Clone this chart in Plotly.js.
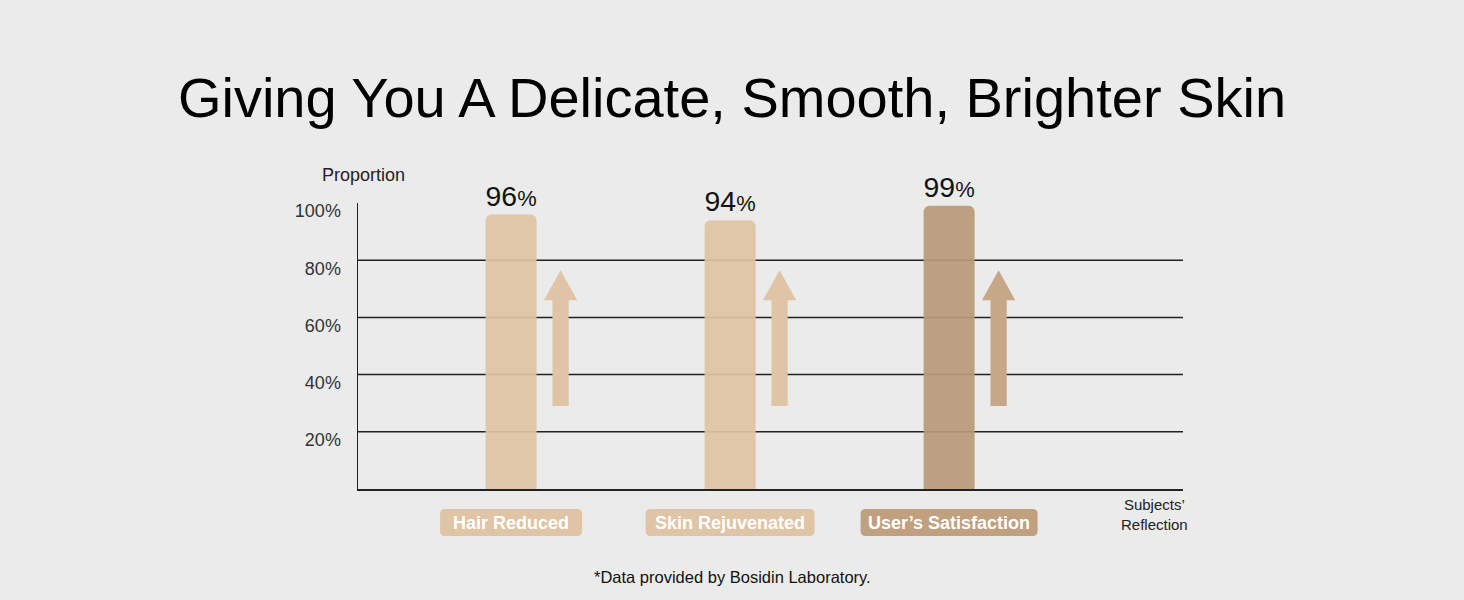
<!DOCTYPE html>
<html>
<head>
<meta charset="utf-8">
<script src="https://cdn.plot.ly/plotly-3.0.1.min.js"></script>
<style>
  html, body { margin: 0; padding: 0; background: #ebebeb; }
  #chart { width: 1464px; height: 600px; }
</style>
</head>
<body>
<div id="chart"></div>
<script>
// Chart data
var categories = ["Hair Reduced", "Skin Rejuvenated", "User\u2019s Satisfaction"];
var proportion = [96, 94, 99];
var tickValues = [20, 40, 60, 80, 100];
var tickLabels = ["20%", "40%", "60%", "80%", "100%"];
var gridValues = [20, 40, 60, 80];
// arrow next to each bar: bottom, head base, tip (in % of axis)
var arrowBottom = [29, 29, 29];
var arrowNeck = [66, 66, 66];
var arrowTip = [76.5, 76.5, 76.5];

// Colours
var lightTan = "#dfc4a5";
var darkTan = "#b89a7a";
var barColors = [lightTan, lightTan, darkTan];
var arrowColors = [lightTan, lightTan, "#c6a787"];
var pillColors = [lightTan, lightTan, "#c0a07f"];
var pillWidths = [142, 169, 177];   // px

var FONT = "Liberation Sans, Arial, sans-serif";
var xpos = categories.map(function (c, i) { return i; });

// plot area size, used to turn pixel sizes into axis units
var plotW = 1464 - 358 - 281, plotH = 600 - 203 - 111;
var xRange = [-0.699, 3.068];
var pxX = (xRange[1] - xRange[0]) / plotW;
var pxY = 1 / plotH;

var bars = {
  type: "bar",
  x: xpos,
  y: proportion,
  width: 0.233,
  marker: { color: barColors, opacity: 0.93, cornerradius: 6 },
  text: proportion.map(function (v) {
    return v + "<span style='font-size:27px'>%</span>";
  }),
  texttemplate: "%{text}",
  textposition: "outside",
  cliponaxis: false,
  textfont: { family: FONT, size: 35, color: "#111" },
  hoverinfo: "skip"
};

var shapes = [];
// grid lines
gridValues.forEach(function (g) {
  shapes.push({
    type: "line", xref: "paper", yref: "y",
    x0: 0, x1: 1, y0: g, y1: g,
    line: { color: "#222", width: 1.5 },
    layer: "below"
  });
});
// up arrows
var offset = 0.226, head = 0.076, shaft = 0.037;
xpos.forEach(function (x, i) {
  var c = x + offset;
  var p = "M " + (c - shaft) + "," + arrowBottom[i] +
    " L " + (c - shaft) + "," + arrowNeck[i] +
    " L " + (c - head) + "," + arrowNeck[i] +
    " L " + c + "," + arrowTip[i] +
    " L " + (c + head) + "," + arrowNeck[i] +
    " L " + (c + shaft) + "," + arrowNeck[i] +
    " L " + (c + shaft) + "," + arrowBottom[i] + " Z";
  shapes.push({
    type: "path", xref: "x", yref: "y", path: p,
    fillcolor: arrowColors[i], line: { width: 0 }, layer: "above"
  });
});
// rounded pills under the categories
xpos.forEach(function (x, i) {
  var hw = pillWidths[i] / 2 * pxX;
  var x0 = x - hw, x1 = x + hw;
  var y1 = -20 * pxY, y0 = -47 * pxY;
  var rx = 5 * pxX, ry = 5 * pxY;
  var p = "M " + (x0 + rx) + "," + y1 +
    " L " + (x1 - rx) + "," + y1 +
    " Q " + x1 + "," + y1 + " " + x1 + "," + (y1 - ry) +
    " L " + x1 + "," + (y0 + ry) +
    " Q " + x1 + "," + y0 + " " + (x1 - rx) + "," + y0 +
    " L " + (x0 + rx) + "," + y0 +
    " Q " + x0 + "," + y0 + " " + x0 + "," + (y0 + ry) +
    " L " + x0 + "," + (y1 - ry) +
    " Q " + x0 + "," + y1 + " " + (x0 + rx) + "," + y1 + " Z";
  shapes.push({
    type: "path", xref: "x", yref: "paper", path: p,
    fillcolor: pillColors[i], line: { width: 0 }, layer: "above"
  });
});

var annotations = [];
// category labels
categories.forEach(function (c, i) {
  annotations.push({
    x: xpos[i], xref: "x", y: 0, yref: "paper",
    yshift: -33.5, xanchor: "center", yanchor: "middle", showarrow: false,
    text: "<b>" + c + "</b>",
    font: { family: FONT, size: 18, color: "#fff" }
  });
});
annotations.push({
  x: 0, xref: "paper", y: 1, yref: "paper", xshift: 5, yshift: 28,
  xanchor: "center", yanchor: "middle", showarrow: false, text: "Proportion",
  font: { family: FONT, size: 18, color: "#222" }
});
annotations.push({
  x: 1, xref: "paper", y: 0, yref: "paper", xshift: -29, yshift: -25,
  xanchor: "center", yanchor: "middle", showarrow: false, align: "center",
  text: "Subjects\u2019<br>Reflection",
  font: { family: FONT, size: 15, color: "#222" }
});
annotations.push({
  x: 0.5, xref: "paper", y: 0, yref: "paper", xshift: -38, yshift: -88,
  xanchor: "center", yanchor: "middle", showarrow: false,
  text: "*Data provided by Bosidin Laboratory.",
  font: { family: FONT, size: 16.5, color: "#111" }
});

var layout = {
  width: 1464,
  height: 600,
  paper_bgcolor: "#ebebeb",
  plot_bgcolor: "#ebebeb",
  margin: { l: 358, r: 281, t: 203, b: 111, pad: 0 },
  showlegend: false,
  title: {
    text: "Giving You A Delicate, Smooth, Brighter Skin",
    x: 0.5, xanchor: "center", y: 0.837, yanchor: "middle",
    font: { family: FONT, size: 56, color: "#000" }
  },
  xaxis: {
    range: xRange,
    showgrid: false, zeroline: false, showticklabels: false, ticks: "",
    showline: true, linecolor: "#222", linewidth: 1.5, fixedrange: true
  },
  yaxis: {
    range: [0, 100],
    tickvals: tickValues, ticktext: tickLabels,
    showgrid: false, zeroline: false, ticks: "",
    ticklabelshift: 8, ticklabelstandoff: 12,
    tickfont: { family: FONT, size: 18, color: "#333" },
    showline: true, linecolor: "#222", linewidth: 1.5, fixedrange: true
  },
  shapes: shapes,
  annotations: annotations
};

Plotly.newPlot("chart", [bars], layout, { displayModeBar: false, staticPlot: true });
</script>
</body>
</html>
